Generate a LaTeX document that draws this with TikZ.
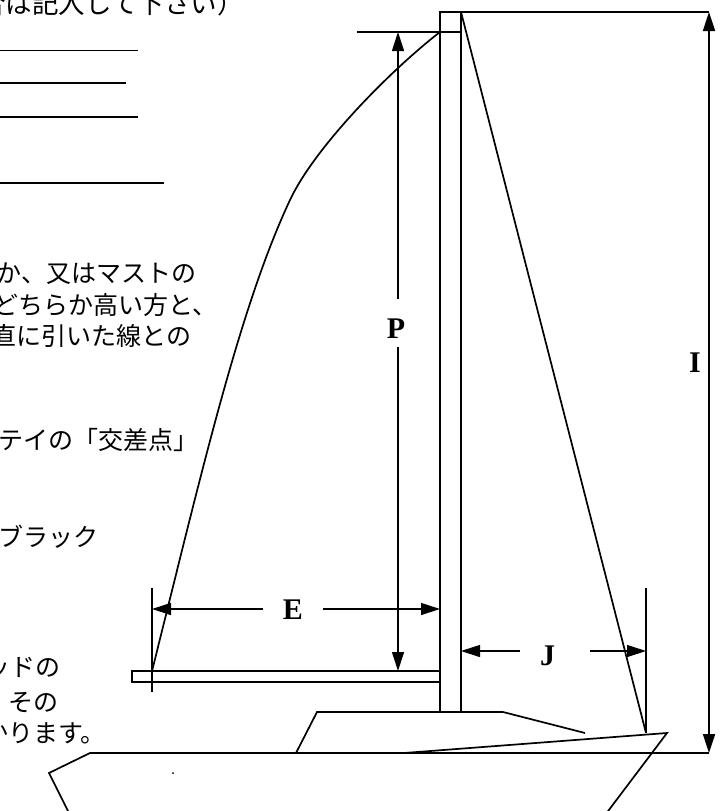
\documentclass[tikz,border=0pt]{standalone}
\usepackage{fontspec}
\setmainfont{Liberation Serif}
\newfontfamily\jpfont{Noto Sans CJK JP}
\usetikzlibrary{arrows.meta}
\tikzset{%
  part/.style={line width=1.7pt},
  dim line/.style={line width=1.1pt},
  note/.style={
    anchor=base west,
    inner sep=0pt,
    font=\jpfont\fontsize{25}{30}\selectfont
  },
  dim label/.style={
    anchor=base,
    inner xsep=20pt,
    inner ysep=14pt,
    font=\bfseries\fontsize{30}{36}\selectfont
  },
}

\begin{document}
\begin{tikzpicture}[x=1pt, y=-1pt, > = {Triangle[length=19pt,width=12pt]}]
\useasboundingbox (0,0) rectangle (722,811);
\clip (0,0) rectangle (722,811);

% notes on the left, cut by the page edge
\node[note, font=\jpfont\fontsize{26.5}{30}\selectfont] (noteHead) at (-20.7,13) {合は記入して下さい）};
\draw[line width=1pt] (0,50) -- (138,50);
\draw[part] (0,83) -- (126,83);
\draw[part] (0,117) -- (138,117);
\draw[part] (0,183) -- (164,183);

\node[note] (noteA) at (-3.5,282) {か、又はマストの};
\node[note] (noteB) at (-7,314) {どちらか高い方と、};
\node[note] (noteC) at (-8.5,345) {直に引いた線との};
\node[note] (noteD) at (-2,449.5) {テイの「交差点」};
\node[note] (noteE) at (-2,546.5) {ブラック};
\node[note] (noteF) at (-14.5,676.5) {ッドの};
\node[note] (noteG) at (8.5,711.5) {その};
\node[note] (noteH) at (-17,742.5) {かります。};

% rig
\coordinate (mastTop) at (440,12);
\coordinate (mastBot) at (461,712);
\coordinate (stayTop) at (461,12);
\coordinate (stem) at (646,733);
\coordinate (peak) at (440,32);
\coordinate (clew) at (152,671);
\coordinate (leechMid) at (290,200);
\coordinate (iTop) at (709,12);
\coordinate (iBot) at (709,753);

\draw[part] (mastTop) rectangle (mastBot);
\draw[part] (mastTop) -- (iTop);
\draw[part] (357,32) -- (peak) -- (461,32);
\draw[part] (132,671) rectangle (440,682);
\draw[part] (clew) .. controls (200.6,477) and (239,308.6) .. (leechMid)
  .. controls (315.5,145.7) and (392.6,68.6) .. (peak);
\draw[part] (stayTop) -- (stem);

% hull
\draw[part] (78,831) -- (49,773) -- (90,753) -- (668,753);
\draw[part] (404,753) -- (667,733) -- (590,835);
\draw[part] (296,753) -- (317,712) -- (503,712) -- (585,733);
\draw[dim line] (668,753) -- (iBot);
\fill (173,773) circle (1pt);

% measures
\coordinate (eL) at (152,609);
\coordinate (eR) at (440,609);
\coordinate (jL) at (461,651);
\coordinate (jR) at (646,651);
\coordinate (pTop) at (398,32);
\coordinate (pBot) at (398,671);

\draw[dim line] (152,588) -- (152,692);
\draw[dim line] (646,588) -- (stem);

\node[dim label] (labE) at (293,619) {E};
\draw[dim line, ->] (labE.west |- eL) -- (eL);
\draw[dim line, ->] (labE.east |- eR) -- (eR);

\node[dim label] (labJ) at (547.5,665) {J};
\draw[dim line, ->] (labJ.west |- jL) -- (jL);
\draw[dim line, ->, shorten <=15pt] (labJ.east |- jR) -- (jR);

\node[dim label] (labP) at (396,338) {P};
\draw[dim line, ->, shorten <=5pt] (labP.north -| pTop) -- (pTop);
\draw[dim line, ->, shorten <=-5pt] (labP.south -| pBot) -- (pBot);

\node[dim label] (labI) at (695,372) {I};
\draw[part, <->] (iTop) -- (iBot);
\end{tikzpicture}
\end{document}
